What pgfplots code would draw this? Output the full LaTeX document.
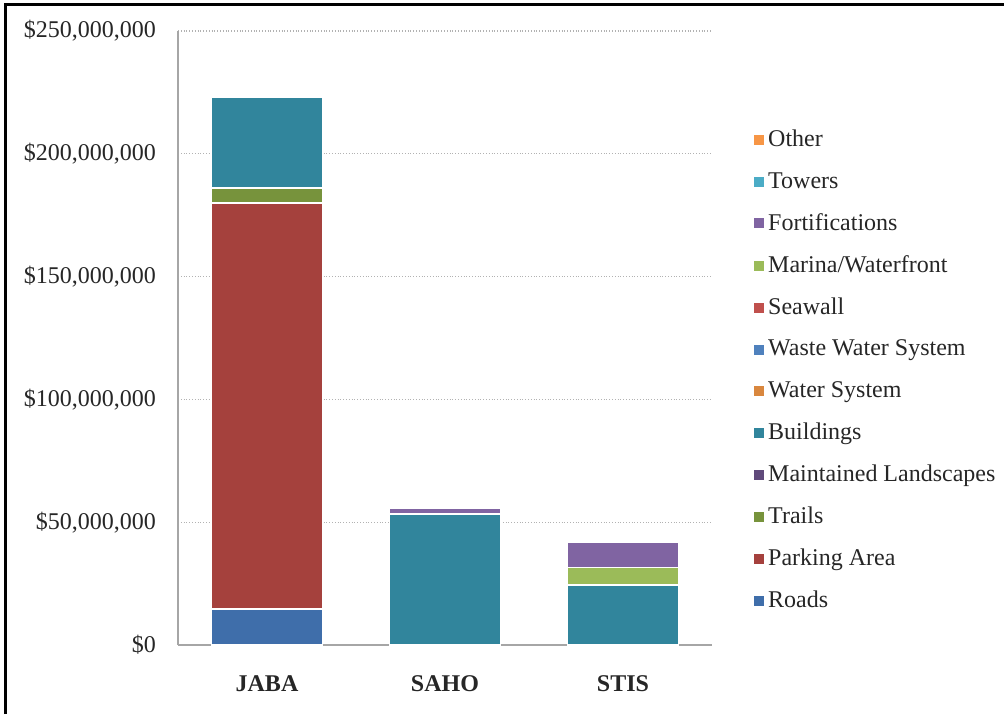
\documentclass[border=0pt]{standalone}
\usepackage{pgfplots}
\pgfplotsset{compat=1.18}
\usepackage{fontspec}
\setmainfont{Liberation Serif}

\definecolor{cRoads}{HTML}{3F6EAA}
\definecolor{cParking}{HTML}{A5413D}
\definecolor{cTrails}{HTML}{77933C}
\definecolor{cMaint}{HTML}{604A7B}
\definecolor{cBuild}{HTML}{31859C}
\definecolor{cWater}{HTML}{D9873E}
\definecolor{cWaste}{HTML}{4F81BD}
\definecolor{cSeawall}{HTML}{C0504D}
\definecolor{cMarina}{HTML}{9BBB59}
\definecolor{cFort}{HTML}{8064A2}
\definecolor{cTowers}{HTML}{4BACC6}
\definecolor{cOther}{HTML}{F79646}

\begin{document}
\begin{tikzpicture}
\path[use as bounding box] (0,0) rectangle (502pt,357pt);
\draw[line width=1.5pt] (2.5pt,0) -- (2.5pt,354.5pt) -- (502pt,354.5pt);
\begin{axis}[
    at={(89pt,34.5pt)}, anchor=south west,
    scale only axis,
    width=267pt, height=307pt,
    ybar stacked, bar width=55.5pt,
    xmin=-0.5, xmax=2.5,
    ymin=0, ymax=250000000,
    scaled y ticks=false,
    xtick={0,1,2},
    xticklabels={JABA,SAHO,STIS},
    xticklabel style={font=\fontsize{12}{14}\selectfont\bfseries, yshift=-12pt},
    ytick={0,50000000,100000000,150000000,200000000,250000000},
    yticklabels={\$0,{\$50,000,000},{\$100,000,000},{\$150,000,000},{\$200,000,000},{\$250,000,000}},
    yticklabel style={xshift=-7.5pt},
    major tick length=0pt,
    axis x line*=bottom, axis y line*=left,
    axis line style={draw=gray!70, line width=0.6pt},
    ymajorgrids,
    grid style={gray!60, densely dotted, line width=0.6pt},
    font=\fontsize{12}{14}\selectfont,
    tick label style={text=black!85},
    legend style={at={(1.067,0.852)}, anchor=north west, draw=none, fill=none,
        row sep=7.2pt, font=\fontsize{12}{14}\selectfont, text=black!85, cells={anchor=west}},
    legend image code/.code={\fill[#1, draw=none] (0pt,-2.5pt) rectangle (5pt,2.5pt);},
    reverse legend,
    every axis plot/.append style={draw=white, line width=0.8pt},
]
\addplot[fill=cRoads] coordinates {(0,14700000) (1,0) (2,0)};
\addplot[fill=cParking] coordinates {(0,165300000) (1,0) (2,0)};
\addplot[fill=cTrails] coordinates {(0,6000000) (1,0) (2,0)};
\addplot[fill=cMaint] coordinates {(0,0) (1,0) (2,0)};
\addplot[fill=cBuild] coordinates {(0,37000000) (1,53300000) (2,24400000)};
\addplot[fill=cWater] coordinates {(0,0) (1,0) (2,0)};
\addplot[fill=cWaste] coordinates {(0,0) (1,0) (2,0)};
\addplot[fill=cSeawall] coordinates {(0,0) (1,0) (2,0)};
\addplot[fill=cMarina] coordinates {(0,0) (1,0) (2,7200000)};
\addplot[fill=cFort] coordinates {(0,0) (1,2600000) (2,10400000)};
\addplot[fill=cTowers] coordinates {(0,0) (1,0) (2,0)};
\addplot[fill=cOther] coordinates {(0,0) (1,0) (2,0)};
\legend{Roads,Parking Area,Trails,Maintained Landscapes,Buildings,Water System,Waste Water System,Seawall,Marina/Waterfront,Fortifications,Towers,Other}
\end{axis}
\end{tikzpicture}
\end{document}
